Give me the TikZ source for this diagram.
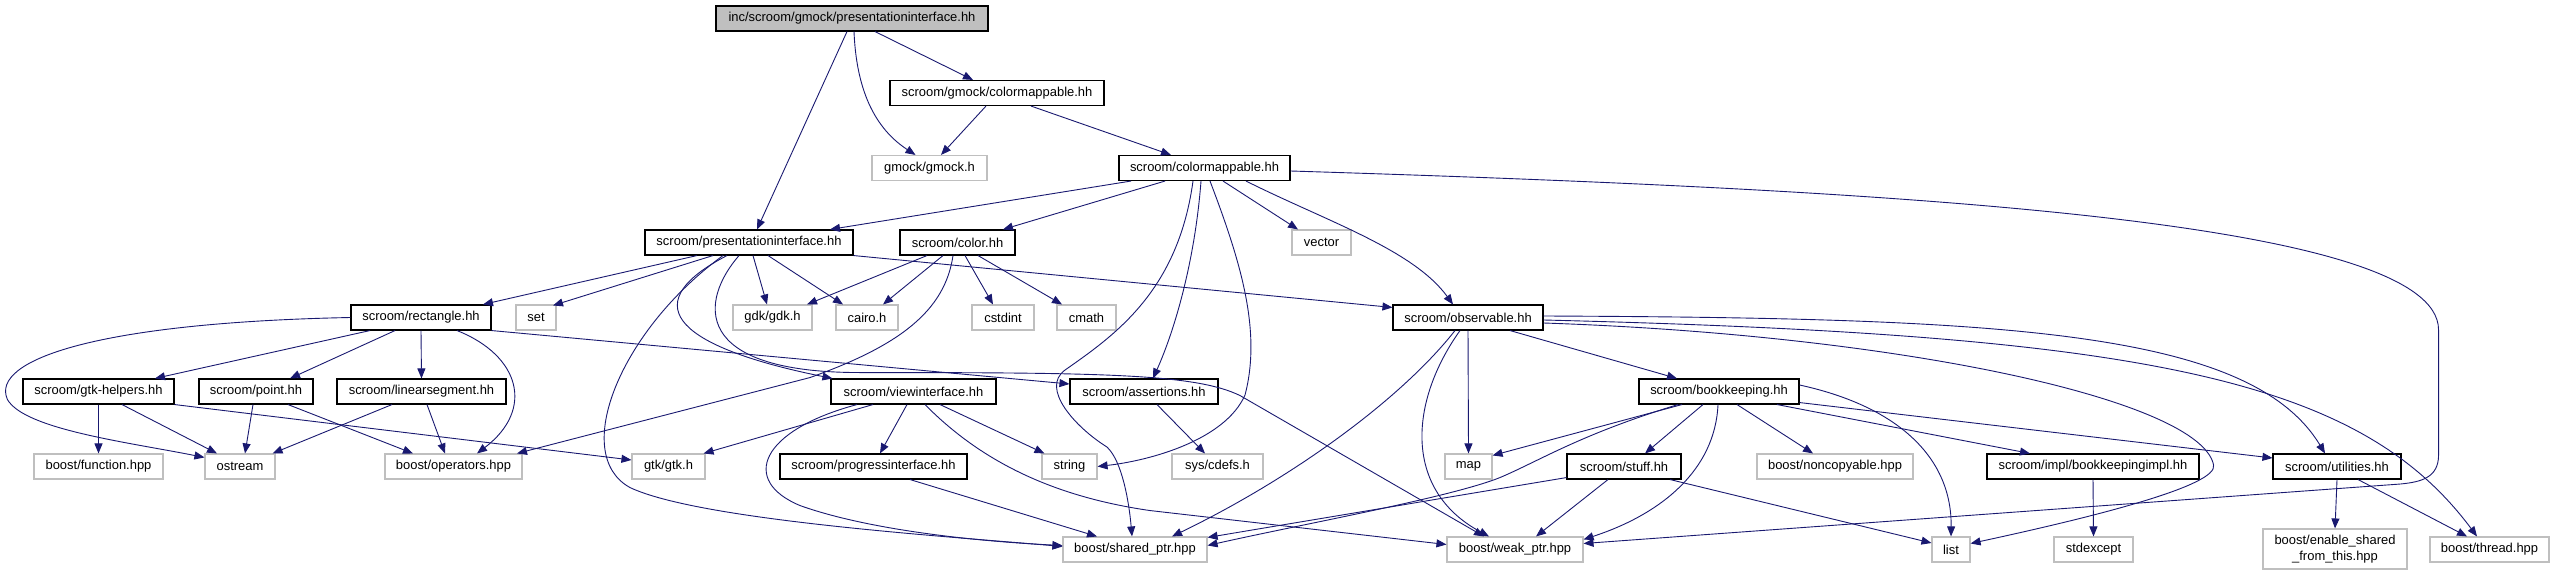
\documentclass[tikz,border=0pt]{standalone}
\usepackage{fontspec}
\setmainfont{Liberation Sans}
\usetikzlibrary{arrows.meta}
\definecolor{navy}{HTML}{191970}
\definecolor{greyline}{HTML}{BFBFBF}
\newcommand\nodefont{\fontsize{13}{15}\selectfont}
\tikzset{
  doc/.style={draw=black, fill=white, line width=1.1bp, minimum height=25bp, inner sep=0pt, font=\nodefont},
  ext/.style={draw=greyline, fill=white, line width=1.1bp, minimum height=25bp, inner sep=0pt, font=\nodefont},
  mainnode/.style={doc, fill=greyline},
  edge/.style={draw=navy, line width=0.9bp, -{Triangle[length=10bp,width=8bp,fill=navy]}}
}
\begin{document}
\begin{tikzpicture}[x=1bp,y=-1bp]
\useasboundingbox (0,0) rectangle (2554,576);
% row 0-2
\node[mainnode, minimum width=272bp] (M) at (852,18.5) {inc/scroom/gmock/presentationinterface.hh};
\node[doc, minimum width=214bp] (GCM) at (997,93) {scroom/gmock/colormappable.hh};
\node[ext, minimum width=115bp] (gmockh) at (929.5,168) {gmock/gmock.h};
\node[doc, minimum width=171bp] (CM) at (1204.5,168) {scroom/colormappable.hh};
% row 3
\node[doc, minimum width=208bp] (PI) at (749,242.5) {scroom/presentationinterface.hh};
\node[doc, minimum width=115bp] (color) at (957.5,242.5) {scroom/color.hh};
\node[ext, minimum width=59bp] (vector) at (1321.5,242.5) {vector};
% row 4
\node[doc, minimum width=140bp] (rect) at (421,317.5) {scroom/rectangle.hh};
\node[ext, minimum width=40bp] (set) at (536,317.5) {set};
\node[ext, minimum width=79bp] (gdk) at (772.5,317.5) {gdk/gdk.h};
\node[ext, minimum width=62bp] (cairo) at (867,317.5) {cairo.h};
\node[ext, minimum width=62bp] (cstdint) at (1003,317.5) {cstdint};
\node[ext, minimum width=59bp] (cmath) at (1086.5,317.5) {cmath};
\node[doc, minimum width=150bp] (obs) at (1468,317.5) {scroom/observable.hh};
% row 5
\node[doc, minimum width=151bp] (gtkhelp) at (98.5,391.5) {scroom/gtk-helpers.hh};
\node[doc, minimum width=114bp] (point) at (256,391.5) {scroom/point.hh};
\node[doc, minimum width=169bp] (linseg) at (421.5,391.5) {scroom/linearsegment.hh};
\node[doc, minimum width=165bp] (view) at (913.5,391.5) {scroom/viewinterface.hh};
\node[doc, minimum width=148bp] (assert) at (1144,391.5) {scroom/assertions.hh};
\node[doc, minimum width=160bp] (bookk) at (1719,391.5) {scroom/bookkeeping.hh};
% row 6
\node[ext, minimum width=129bp] (func) at (98.5,466.5) {boost/function.hpp};
\node[ext, minimum width=70bp] (ostream) at (240,466.5) {ostream};
\node[ext, minimum width=137bp] (operators) at (453.5,466.5) {boost/operators.hpp};
\node[ext, minimum width=73bp] (gtkh) at (668.5,466.5) {gtk/gtk.h};
\node[doc, minimum width=187bp] (progress) at (873.5,466.5) {scroom/progressinterface.hh};
\node[ext, minimum width=55bp] (string) at (1069.5,466.5) {string};
\node[ext, minimum width=91bp] (cdefs) at (1217.5,466.5) {sys/cdefs.h};
\node[ext, minimum width=47bp] (map) at (1468.5,466.5) {map};
\node[doc, minimum width=114bp] (stuff) at (1624,466.5) {scroom/stuff.hh};
\node[ext, minimum width=156bp] (noncopy) at (1835,466.5) {boost/noncopyable.hpp};
\node[doc, minimum width=212bp] (bkimpl) at (2093,466.5) {scroom/impl/bookkeepingimpl.hh};
\node[doc, minimum width=128bp] (util) at (2337,466.5) {scroom/utilities.hh};
% row 7
\node[ext, minimum width=144bp] (shared) at (1135,549.5) {boost/shared\_ptr.hpp};
\node[ext, minimum width=136bp] (weak) at (1515,549.5) {boost/weak\_ptr.hpp};
\node[ext, minimum width=38bp] (list) at (1951,549.5) {list};
\node[ext, minimum width=79bp] (stdexcept) at (2093.5,549.5) {stdexcept};
\node[ext, minimum width=144bp, minimum height=40bp, align=center, font=\fontsize{13}{15.5}\selectfont] (enable) at (2335,549) {boost/enable\_shared\\\_from\_this.hpp};
\node[ext, minimum width=119bp] (thread) at (2489.5,549.5) {boost/thread.hpp};

% edges from main
\draw[edge] ([xshift=-5bp]M.south) -- ([xshift=8bp]PI.north);
\draw[edge] ([xshift=2bp]M.south) .. controls +(2,49) and +(-46,-30) .. ([xshift=-14bp]gmockh.north);
\draw[edge] ([xshift=23bp]M.south) -- ([xshift=-24bp]GCM.north);
% GCM
\draw[edge] ([xshift=-11bp]GCM.south) -- ([xshift=11.5bp]gmockh.north);
\draw[edge] ([xshift=34bp]GCM.south) -- ([xshift=-33.5bp]CM.north);
% CM
\draw[edge] ([xshift=-73.5bp]CM.south) -- ([xshift=81bp]PI.north);
\draw[edge] ([xshift=-39.5bp]CM.south) -- ([xshift=45.5bp]color.north);
\draw[edge] ([xshift=18.5bp]CM.south) -- ([xshift=-23.5bp]vector.north);
\draw[edge] ([xshift=41.5bp]CM.south) .. controls +(80,40) and +(-40,-55) .. ([xshift=-15bp]obs.north);
\draw[edge] ([xshift=-3.5bp]CM.south) .. controls +(-6,79) and +(22,-49) .. ([xshift=9bp]assert.north);
\draw[edge] ([xshift=5.5bp]CM.south) .. controls +(30,79) and +(17,-65) .. ++(35,214) .. controls +(-20,45) and +(53,-6) .. (string.east);
\draw[edge] ([xshift=-11.5bp]CM.south) .. controls +(-15,110) and +(50,-35) .. ++(-128,189) .. controls +(-25,18) and +(-32,-20) .. ++(42,77) .. controls +(15,14) and +(-3,-35) .. ([xshift=-3bp]shared.north);
\draw[edge] ([yshift=-3bp]CM.east) .. controls +(610,19) and +(0,-110) .. ++(1148,159) -- ++(0,125) .. controls +(0,23) and +(20,-2) .. ++(-38,29) -- ([yshift=6bp]weak.east);
% PI
\draw[edge] ([xshift=-52bp]PI.south) -- ([xshift=62bp]rect.north);
\draw[edge] ([xshift=-36bp]PI.south) -- ([xshift=17bp,yshift=-1bp]set.north);
\draw[edge] ([xshift=-22bp]PI.south) .. controls +(-87,45) and +(-168,-34) .. ([xshift=2bp]view.north west);
\draw[edge] ([xshift=-26bp]PI.south) .. controls +(-103,75) and +(-60,-33) .. ++(-93,232) .. controls +(70,33) and +(-113,-10) .. ([yshift=3bp]shared.west);
\draw[edge] ([xshift=-10bp]PI.south) .. controls +(-39,45) and +(-170,0) .. ++(121,117) .. controls +(240,0) and +(-45,-22) .. ++(380,23) -- ([xshift=-31bp]weak.north);
\draw[edge] ([xshift=4bp]PI.south) -- ([xshift=-5.5bp]gdk.north);
\draw[edge] ([xshift=19bp]PI.south) -- ([xshift=-24bp]cairo.north);
\draw[edge] (PI.south east) -- ([yshift=-3bp]obs.north west);
% color
\draw[edge] ([xshift=-30.5bp]color.south) -- ([xshift=34.5bp]gdk.north);
\draw[edge] ([xshift=-14.5bp]color.south) -- ([xshift=16bp]cairo.north);
\draw[edge] ([xshift=-4.5bp]color.south) .. controls +(-8,55) and +(90,-32) .. ++(-143,122) -- ([xshift=63.5bp]operators.north);
\draw[edge] ([xshift=7.5bp]color.south) -- ([xshift=-10bp]cstdint.north);
\draw[edge] ([xshift=20.5bp]color.south) -- ([xshift=-24.5bp]cmath.north);
% rectangle
\draw[edge] (rect.west) .. controls +(-251,5) and +(-18,-40) .. ++(-343,82) .. controls +(17,30) and +(-75,-15) .. ([yshift=-4bp]ostream.north west);
\draw[edge] ([xshift=-51bp]rect.south) -- ([xshift=56.5bp]gtkhelp.north);
\draw[edge] ([xshift=-26bp]rect.south) -- ([xshift=34bp]point.north);
\draw[edge] (rect.south) -- (linseg.north);
\draw[edge] ([xshift=36bp]rect.south) .. controls +(63,25) and +(58,-44) .. ([xshift=23.5bp]operators.north);
\draw[edge] (rect.south east) -- ([yshift=7.5bp]assert.west);
% gtk-helpers
\draw[edge] (gtkhelp.south) -- (func.north);
\draw[edge] ([xshift=23.5bp]gtkhelp.south) -- ([xshift=-23bp]ostream.north);
\draw[edge] (gtkhelp.south east) -- ([yshift=6.5bp]gtkh.west);
% point
\draw[edge] ([xshift=-3bp]point.south) -- ([xshift=5bp]ostream.north);
\draw[edge] ([xshift=32bp]point.south) -- ([xshift=-40.5bp]operators.north);
% linearsegment
\draw[edge] ([xshift=-29.5bp]linseg.south) -- ([xshift=-3bp]ostream.north east);
\draw[edge] ([xshift=5.5bp]linseg.south) -- ([xshift=-8.5bp]operators.north);
% viewinterface
\draw[edge] ([xshift=-56.5bp]view.south) .. controls +(-97,26) and +(-60,-25) .. ++(-57,101) .. controls +(70,25) and +(-83,-4) .. ([yshift=4bp]shared.west);
\draw[edge] ([xshift=-40.5bp]view.south) -- ([xshift=-2bp]gtkh.north east);
\draw[edge] ([xshift=-6.5bp]view.south) -- ([xshift=6.5bp]progress.north);
\draw[edge] ([xshift=11.5bp]view.south) .. controls +(60,61) and +(-90,-13) .. ++(225,106) -- ([yshift=5bp]weak.west);
\draw[edge] ([xshift=26.5bp]view.south) -- ([xshift=3bp]string.north west);
% progressinterface, assertions
\draw[edge] ([xshift=36.5bp]progress.south) -- ([xshift=-38bp]shared.north);
\draw[edge] ([xshift=13bp]assert.south) -- ([xshift=-12.5bp]cdefs.north);
% observable
\draw[edge] ([xshift=-13bp]obs.south) .. controls +(-55,70) and +(118,-57) .. ([xshift=37bp]shared.north);
\draw[edge] ([xshift=-8bp]obs.south) .. controls +(-50,70) and +(-87,-47) .. ([xshift=-26bp]weak.north);
\draw[edge] (obs.south) -- (map.north);
\draw[edge] ([xshift=42bp]obs.south) -- ([xshift=-42bp]bookk.north);
\draw[edge] ([yshift=1.5bp]obs.east) .. controls +(457,2) and +(-75,-124) .. ([xshift=-12bp]util.north);
\draw[edge] ([yshift=-2.5bp]obs.east) .. controls +(607,15) and +(-117,-157) .. ([xshift=-12.5bp]thread.north);
\draw[edge] ([yshift=-5.5bp]obs.east) .. controls +(357,12) and +(-13,-65) .. ++(670,142) .. controls +(5,20) and +(130,-28) .. ([yshift=6bp]list.east);
% bookkeeping
\draw[edge] ([xshift=-37bp]bookk.south) -- ([yshift=-2bp]map.north east);
\draw[edge] ([xshift=-41bp]bookk.south) .. controls +(-98,30) and +(40,-17) .. ++(-178,73) .. controls +(-50,20) and +(93,-21) .. ([yshift=4bp]shared.east);
\draw[edge] ([xshift=-16bp]bookk.south) -- ([xshift=21bp]stuff.north);
\draw[edge] ([xshift=-1bp]bookk.south) .. controls +(-3,66) and +(77,-25) .. ([yshift=-3bp]weak.north east);
\draw[edge] ([xshift=18bp]bookk.south) -- ([xshift=-22bp]noncopy.north);
\draw[edge] ([xshift=58bp]bookk.south) -- ([xshift=-63bp]bkimpl.north);
\draw[edge] ([yshift=6.5bp]bookk.east) .. controls +(101,22) and +(1,-77) .. (list.north);
\draw[edge] ([yshift=2bp]bookk.south east) -- ([yshift=8.5bp]util.west);
% stuff
\draw[edge] ([yshift=2bp]stuff.south west) -- ([yshift=-1bp]shared.north east);
\draw[edge] ([xshift=-16bp]stuff.south) -- ([xshift=21bp]weak.north);
\draw[edge] ([xshift=46bp]stuff.south) -- ([yshift=6.5bp]list.west);
% bookkeepingimpl, utilities
\draw[edge] (bkimpl.south) -- (stdexcept.north);
\draw[edge] (util.south) -- (enable.north);
\draw[edge] ([xshift=21bp]util.south) -- ([xshift=-22.5bp]thread.north);
\end{tikzpicture}
\end{document}
